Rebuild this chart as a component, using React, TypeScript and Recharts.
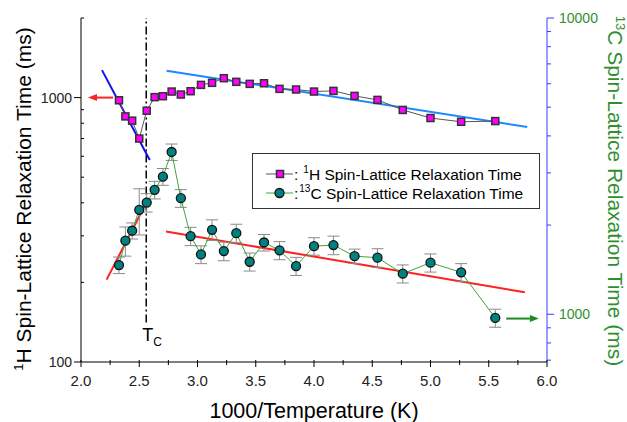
import React from "react";
import { ComposedChart, Line, XAxis, YAxis, ErrorBar, ReferenceLine } from "recharts";

// 1000/T for each measured temperature
const invTemp = [2.326, 2.381, 2.439, 2.5, 2.564, 2.632, 2.703, 2.778, 2.857, 2.941, 3.03, 3.125, 3.226,
    3.333, 3.448, 3.571, 3.704, 3.846, 4.0, 4.167, 4.348, 4.545, 4.762, 5.0, 5.263, 5.556];
// 1H T1 (ms), left axis
const hT1 = [977, 849, 818, 700, 892, 1004, 1012, 1054, 1027, 1057, 1117, 1137, 1184,
    1147, 1127, 1133, 1079, 1073, 1054, 1060, 1015, 980, 898, 837, 810, 815];
// 13C T1 (ms), right axis
const cT1 = [1466, 1771, 1914, 2252, 2383, 2630, 2914, 3530, 2465, 1835, 1592, 1928, 1634,
    1878, 1504, 1747, 1643, 1454, 1698, 1712, 1571, 1552, 1371, 1493, 1385, 972];
const cErr = [94, 200, 120, 400, 170, 180, 190, 225, 170, 130, 110, 155, 118,
    135, 105, 112, 115, 102, 115, 123, 88, 112, 96, 105, 97, 68];

// fitted lines (end points)
const hFitLow = [{ x: 2.18, y: 1270 }, { x: 2.59, y: 581 }];
const hFitHigh = [{ x: 2.735, y: 1264 }, { x: 5.83, y: 774 }];
const cFitLow = [{ x: 2.22, y: 1309 }, { x: 2.58, y: 2465 }];
const cFitHigh = [{ x: 2.73, y: 1903 }, { x: 5.81, y: 1186 }];

const tc = 2.56;
const tcSpan = [141, 2000];
const hArrow = [{ x: 2.275, y: 1000 }, { x: 2.06, y: 1000 }];
const cArrow = [{ x: 5.65, y: 967 }, { x: 5.93, y: 967 }];

const xTicks = [2, 2.25, 2.5, 2.75, 3, 3.25, 3.5, 3.75, 4, 4.25, 4.5, 4.75, 5, 5.25, 5.5, 5.75, 6];
const leftTicks = [100, 200, 300, 400, 500, 600, 700, 800, 900, 1000, 2000];
const leftLabels = [100, 1000];
const rightTicks = [700, 800, 900, 1000, 2000, 3000, 4000, 5000, 6000, 7000, 8000, 9000, 10000];
const rightLabels = [1000, 10000];

const hData = invTemp.map((x, i) => ({ x, h: hT1[i] }));
const cData = invTemp.map((x, i) => ({ x, c: cT1[i], err: cErr[i] }));

const FONT = "Arial, 'Liberation Sans', sans-serif";
const GREEN = "#2f8f2f";
const AXIS_BLUE = "#3a3aff";

const isMajorX = (v: number) => Math.abs(v * 2 - Math.round(v * 2)) < 1e-6;

const BottomTick = (p: any) => {
    const { x, y, payload } = p;
    const major = isMajorX(payload.value);
    return (
        <g>
            <line x1={x} x2={x} y1={y - 2} y2={y + (major ? 5 : 3)} stroke="#000" />
            {major && (
                <text x={x} y={y + 24} textAnchor="middle" fontSize={15} fill="#222" fontFamily={FONT}>
                    {payload.value.toFixed(1)}
                </text>
            )}
        </g>
    );
};

const TopTick = (p: any) => {
    const { x, y } = p;
    return <line x1={x} x2={x} y1={y} y2={y + 3} stroke="#000" />;
};

const LeftTick = (p: any) => {
    const { x, y, payload } = p;
    const major = leftLabels.includes(payload.value);
    return (
        <g>
            {major
                ? <line x1={x - 7} x2={x} y1={y} y2={y} stroke="#000" />
                : <line x1={x} x2={x + 3} y1={y} y2={y} stroke="#000" />}
            {major && (
                <text x={x - 9} y={y + 5} textAnchor="end" fontSize={14} fill="#222" fontFamily={FONT}>
                    {payload.value}
                </text>
            )}
        </g>
    );
};

const RightTick = (p: any) => {
    const { x, y, payload } = p;
    const major = rightLabels.includes(payload.value);
    return (
        <g>
            <line x1={x} x2={x + (major ? 7 : 4)} y1={y} y2={y} stroke={AXIS_BLUE} />
            {major && (
                <text x={x + 12} y={y + 5} textAnchor="start" fontSize={14} fill={GREEN} fontFamily={FONT}>
                    {payload.value}
                </text>
            )}
        </g>
    );
};

const SquareDot = (p: any) => {
    if (p.cx == null || p.cy == null) return <g key={p.index} />;
    return <rect key={p.index} x={p.cx - 3.5} y={p.cy - 3.5} width={7} height={7} fill="#ff00ff" stroke="#333" strokeWidth={1.5} />;
};

const CircleDot = (p: any) => {
    if (p.cx == null || p.cy == null) return <g key={p.index} />;
    return <circle key={p.index} cx={p.cx} cy={p.cy} r={4.5} fill="#008080" stroke="#111" strokeWidth={1.3} />;
};

const arrowShape = (color: string) => (p: any) => {
    const { x1, y1, x2, y2 } = p;
    const a = Math.atan2(y2 - y1, x2 - x1);
    const L = 9, W = 3.5;
    const bx = x2 - L * Math.cos(a), by = y2 - L * Math.sin(a);
    const pts = `${x2},${y2} ${bx - W * Math.sin(a)},${by + W * Math.cos(a)} ${bx + W * Math.sin(a)},${by - W * Math.cos(a)}`;
    return (
        <g>
            <line x1={x1} y1={y1} x2={bx} y2={by} stroke={color} strokeWidth={2} />
            <polygon points={pts} fill={color} />
        </g>
    );
};

const TcShape = (p: any) => {
    const { x1, y1, x2, y2 } = p;
    const yb = Math.max(y1, y2);
    return (
        <g>
            <line x1={x1} y1={y1} x2={x2} y2={y2} stroke="#000" strokeWidth={1.5} strokeDasharray="8 3 2 3" />
            <text x={x1 - 4} y={yb + 18} fontSize={18} fill="#000" fontFamily={FONT}>
                T<tspan fontSize={12} dy={5}>C</tspan>
            </text>
        </g>
    );
};

const LeftTitle = () => (
    <text transform="translate(31,199) rotate(-90)" textAnchor="middle" fontSize={21} fill="#000" fontFamily={FONT}>
        <tspan fontSize={13} dy={-8}>1</tspan>
        <tspan dy={8}>H Spin-Lattice Relaxation Time (ms)</tspan>
    </text>
);

const RightTitle = () => (
    <text transform="translate(608,191) rotate(90)" textAnchor="middle" fontSize={21} fill={GREEN} fontFamily={FONT}>
        <tspan fontSize={13} dy={-8}>13</tspan>
        <tspan dy={8}>C Spin-Lattice Relaxation Time (ms)</tspan>
    </text>
);

const BottomTitle = () => (
    <text x={314} y={418} textAnchor="middle" fontSize={21.5} fill="#000" fontFamily={FONT}>
        1000/Temperature (K)
    </text>
);

const LegendBox = () => (
    <svg width={288} height={56} style={{ position: "absolute", left: 252, top: 153 }}>
        <rect x={0.5} y={0.5} width={287} height={55} fill="#fff" stroke="#333" />
        <line x1={14} x2={41} y1={21} y2={21} stroke="#555" />
        <rect x={24.5} y={17.5} width={7} height={7} fill="#ff00ff" stroke="#333" strokeWidth={1.5} />
        <text x={42} y={26.5} fontSize={15.5} fontFamily={FONT} fill="#000">
            :<tspan fontSize={10} dx={5} dy={-7}>1</tspan>
            <tspan dy={7}>H Spin-Lattice Relaxation Time</tspan>
        </text>
        <line x1={14} x2={41} y1={40} y2={40} stroke="#41a341" />
        <circle cx={27.5} cy={40} r={4.5} fill="#008080" stroke="#111" strokeWidth={1.3} />
        <text x={42} y={45.5} fontSize={15.5} fontFamily={FONT} fill="#000">
            :<tspan fontSize={10} dx={1} dy={-7}>13</tspan>
            <tspan dy={7}>C Spin-Lattice Relaxation Time</tspan>
        </text>
    </svg>
);

export default function App() {
    return (
        <div style={{ position: "absolute", left: 0, top: 0, width: 627, height: 422, fontFamily: FONT, background: "#fff" }}>
            <ComposedChart width={627} height={422} margin={{ top: 18, right: 20, bottom: 20, left: 20 }}>
                <XAxis
                    type="number" dataKey="x" domain={[2, 6]} ticks={xTicks} interval={0}
                    height={40} tickSize={0} tickMargin={0} tickLine={false}
                    axisLine={{ stroke: "#000" }} tick={<BottomTick />}
                    label={{ content: () => <BottomTitle /> }}
                    allowDataOverflow
                />
                <XAxis
                    xAxisId="top" orientation="top" type="number" domain={[2, 6]} ticks={xTicks} interval={0}
                    height={0} tickSize={0} tickMargin={0} tickLine={false}
                    axisLine={{ stroke: "#000" }} tick={<TopTick />}
                    allowDataOverflow
                />
                <YAxis
                    yAxisId="left" scale="log" domain={[100, 2000]} ticks={leftTicks} interval={0}
                    width={61} tickSize={0} tickMargin={0} tickLine={false}
                    axisLine={{ stroke: "#000" }} tick={<LeftTick />}
                    label={{ content: () => <LeftTitle /> }}
                    allowDataOverflow
                />
                <YAxis
                    yAxisId="right" orientation="right" scale="log" domain={[690, 10000]} ticks={rightTicks} interval={0}
                    width={60} tickSize={0} tickMargin={0} tickLine={false}
                    axisLine={{ stroke: AXIS_BLUE }} tick={<RightTick />}
                    label={{ content: () => <RightTitle /> }}
                    allowDataOverflow
                />

                <ReferenceLine yAxisId="left" segment={[{ x: tc, y: tcSpan[0] }, { x: tc, y: tcSpan[1] }]} shape={TcShape} />
                <ReferenceLine yAxisId="left" segment={hArrow} shape={arrowShape("#ff2020")} />
                <ReferenceLine yAxisId="right" segment={cArrow} shape={arrowShape("#1f8a1f")} />

                <Line yAxisId="left" data={hFitLow} dataKey="y" stroke="#1010ee" strokeWidth={2} dot={false} type="linear" isAnimationActive={false} />
                <Line yAxisId="left" data={hFitHigh} dataKey="y" stroke="#1e88ff" strokeWidth={2} dot={false} type="linear" isAnimationActive={false} />
                <Line yAxisId="right" data={cFitLow} dataKey="y" stroke="#ff2020" strokeWidth={2} dot={false} type="linear" isAnimationActive={false} />
                <Line yAxisId="right" data={cFitHigh} dataKey="y" stroke="#ff2020" strokeWidth={2} dot={false} type="linear" isAnimationActive={false} />

                <Line yAxisId="left" data={hData} dataKey="h" stroke="#555" strokeWidth={1} dot={SquareDot} type="linear" isAnimationActive={false} />
                <Line yAxisId="right" data={cData} dataKey="c" stroke="#41a341" strokeWidth={1} dot={CircleDot} type="linear" isAnimationActive={false}>
                    <ErrorBar dataKey="err" width={6} stroke="#8a8a8a" strokeWidth={1} direction="y" />
                </Line>
            </ComposedChart>
            <LegendBox />
        </div>
    );
}
